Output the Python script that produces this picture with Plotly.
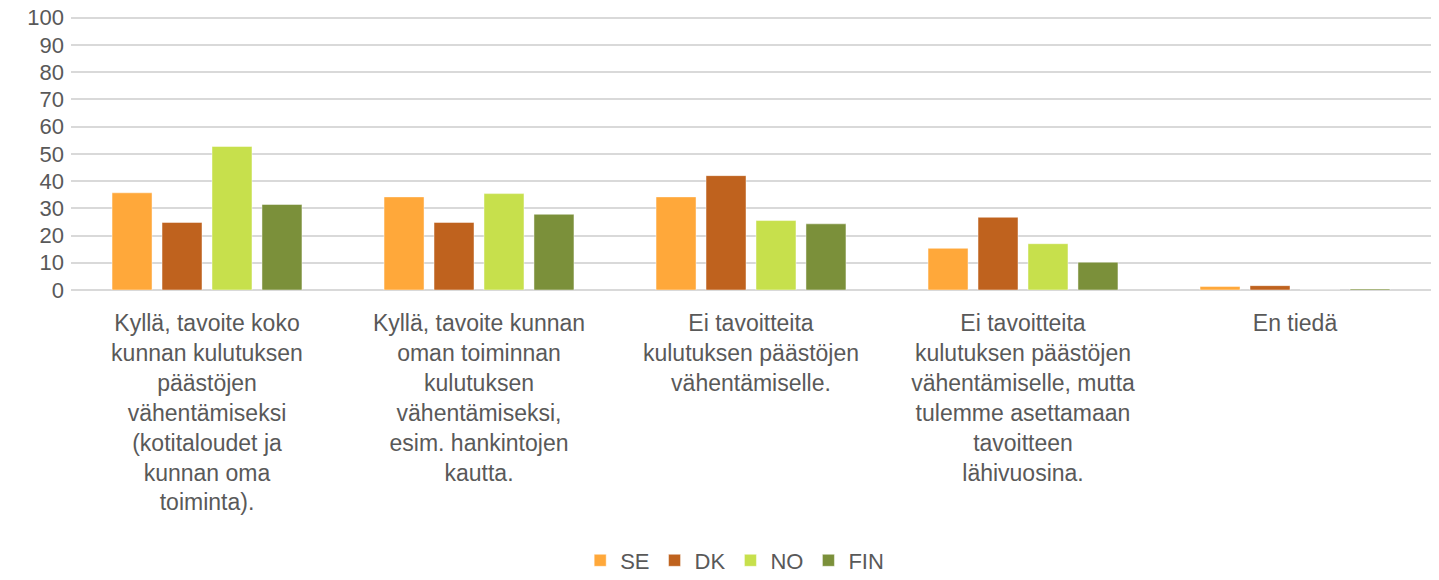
import plotly.graph_objects as go

categories = [
    "Kyllä, tavoite koko<br>kunnan kulutuksen<br>päästöjen<br>vähentämiseksi<br>(kotitaloudet ja<br>kunnan oma<br>toiminta).",
    "Kyllä, tavoite kunnan<br>oman toiminnan<br>kulutuksen<br>vähentämiseksi,<br>esim. hankintojen<br>kautta.",
    "Ei tavoitteita<br>kulutuksen päästöjen<br>vähentämiselle.",
    "Ei tavoitteita<br>kulutuksen päästöjen<br>vähentämiselle, mutta<br>tulemme asettamaan<br>tavoitteen<br>lähivuosina.",
    "En tiedä",
]
se = [35.7, 34.2, 34.2, 15.3, 1.3]
dk = [24.8, 24.8, 42.0, 26.7, 1.6]
no = [52.7, 35.4, 25.5, 17.0, 0.0]
fin = [31.4, 27.8, 24.3, 10.2, 0.4]
y_ticks = list(range(0, 101, 10))

series = [("SE", se, "#FFA83A"), ("DK", dk, "#BF621E"),
          ("NO", no, "#C7E04C"), ("FIN", fin, "#7B903A")]

fig = go.Figure()
for name, vals, color in series:
    fig.add_trace(go.Bar(
        name=name, x=categories, y=vals,
        marker=dict(color=color, line=dict(color="rgba(255,255,255,0.45)", width=1)),
    ))

font_family = "Liberation Sans, Arial, sans-serif"
fig.update_layout(
    width=1439, height=580,
    margin=dict(l=71, r=8, t=15.3, b=289.5, autoexpand=False),
    paper_bgcolor="white", plot_bgcolor="white",
    barmode="group", bargap=0.265, bargroupgap=0.2,
    font=dict(family=font_family, color="#595959"),
    showlegend=True,
    legend=dict(orientation="h", x=0.488, xanchor="center", y=-1.06, yanchor="bottom",
                font=dict(size=22, color="#595959"), itemwidth=30,
                traceorder="normal"),
    xaxis=dict(tickfont=dict(size=23, color="#595959"), showgrid=False,
               showline=False, ticks="", ticklabelstandoff=17, automargin=False),
    yaxis=dict(range=[0, 101], tickvals=y_ticks,
               tickfont=dict(size=22, color="#595959"),
               showgrid=True, gridcolor="#D9D9D9", gridwidth=1.5,
               zeroline=True, zerolinecolor="#D9D9D9", zerolinewidth=1.5,
               showline=False, ticks="", ticklabelstandoff=6, automargin=False,
               fixedrange=True),
)

fig.write_html("out.html", config={"displayModeBar": False},
               post_script="document.body.style.margin='0px';document.body.style.overflow='hidden';")
